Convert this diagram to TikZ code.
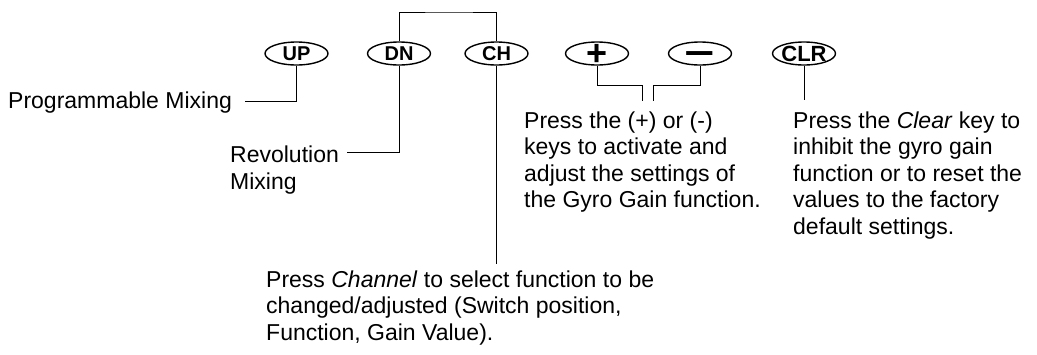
\documentclass[tikz,border=0pt]{standalone}
\usepackage{fontspec}
\setmainfont{Liberation Sans}
\usetikzlibrary{shapes.geometric}
\newcommand{\keyglyph}[2]{\smash{\raisebox{-#1}{#2}}}
\begin{document}
\begin{tikzpicture}[x=1pt,y=-1pt,
  keyshape/.style={ellipse,draw,line width=1.4pt,minimum width=63pt,minimum height=23pt,inner sep=0pt},
  keylbl/.style={font=\fontsize{20}{20}\selectfont\bfseries,inner sep=0pt},
  signlbl/.style={font=\fontsize{36}{36}\selectfont\bfseries,inner sep=0pt},
  conn/.style={line width=0.9pt},
  txt/.style={anchor=base west,inner sep=0pt,align=left,font=\fontsize{23}{26.5}\selectfont}]
\useasboundingbox (0,0) rectangle (1037,354);
% keys
\node[keyshape,label={[keylbl]center:UP}] (UP) at (296.5,53.5) {};
\node[keyshape,label={[keylbl]center:DN}] (DN) at (399,53.5) {};
\node[keyshape,label={[keylbl]center:CH}] (CH) at (496.5,53.5) {};
\node[keyshape,label={[signlbl]center:\keyglyph{12.4pt}{+}}] (PL) at (597,53.5) {};
\node[keyshape,label={[signlbl]center:\keyglyph{12.0pt}{\scalebox{1.45}[1]{−}}}] (MI) at (700,53.5) {};
\node[keyshape,label={[keylbl,font=\fontsize{22}{22}\selectfont\bfseries]center:CLR}] (CLR) at (804,53.5) {};
% texts (base anchor = baseline of the last line)
\node[txt] (pm) at (8,108) {Programmable Mixing};
\node[txt] (rev) at (230,189) {Revolution\\Mixing};
\node[txt] (gyro) at (524,207.5) {Press the (+) or (-)\\keys to activate and\\adjust the settings of\\the Gyro Gain function.};
\node[txt] (clr) at (793,234) {Press the \textit{Clear} key to\\inhibit the gyro gain\\function or to reset the\\values to the factory\\default settings.};
\node[txt] (chan) at (266,340) {Press \textit{Channel} to select function to be\\changed/adjusted (Switch position,\\Function, Gain Value).};
% coordinates
\coordinate (pmend) at (245,101);
\coordinate (revend) at (347,152);
\coordinate (chend) at (496.5,264);
\coordinate (top) at (450,12);
\coordinate (bar) at (620,85.5);
\coordinate (gyroa) at (642,101);
\coordinate (gyrob) at (653,101);
\coordinate (clrend) at (802,100);
% connectors
\draw[conn] (UP.south) |- (pmend);
\draw[conn] (DN.south) |- (revend);
\draw[conn] (CH.south) -- (CH.south |- chend);
\draw[conn] (DN.north) |- (top) -| (CH.north);
\draw[conn] (PL.south) |- (bar -| gyroa) -- (gyroa);
\draw[conn] (MI.south) |- (bar -| gyrob) -- (gyrob);
\draw[conn] (CLR.south) -- (CLR.south |- clrend);
\end{tikzpicture}
\end{document}
